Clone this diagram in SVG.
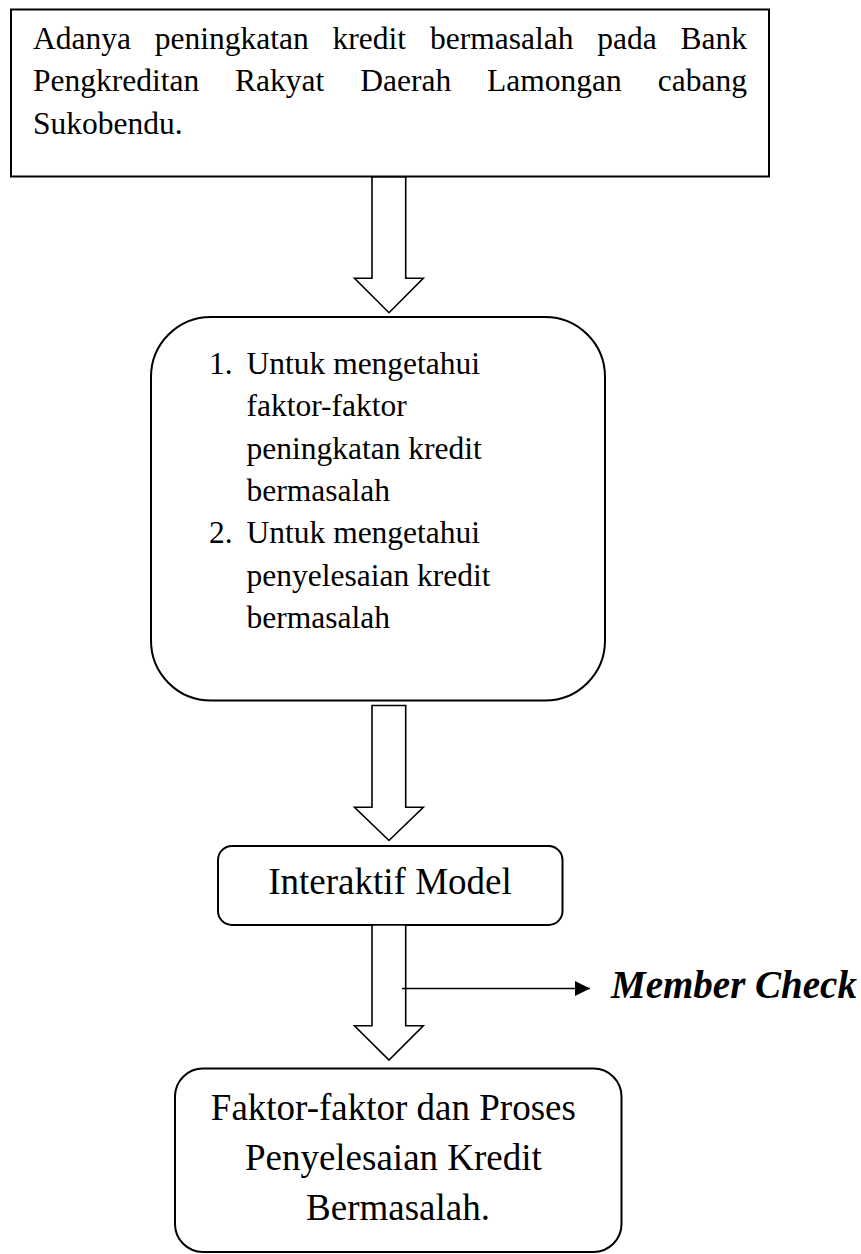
<svg xmlns="http://www.w3.org/2000/svg" width="861" height="1254" viewBox="0 0 861 1254">
  <style>
    .box { fill: #ffffff; stroke: #000000; stroke-width: 2; }
    .barrow { fill: #ffffff; stroke: #000000; stroke-width: 1.6; stroke-linejoin: miter; }
    .t { font-family: "Liberation Serif", "Times New Roman", serif; fill: #000000; }
    .body { font-size: 31.5px; }
    .big { font-size: 37px; }
    .mc { font-size: 39px; font-weight: bold; font-style: italic; }
    .line { stroke: #000000; stroke-width: 1.5; fill: none; }
  </style>
  <defs>
    <marker id="tip" markerWidth="16" markerHeight="16" refX="15" refY="7.5" orient="auto" markerUnits="userSpaceOnUse">
      <path d="M0,0 L15,7.5 L0,15 Z" fill="#000000"/>
    </marker>
  </defs>
  <rect width="861" height="1254" fill="#ffffff"/>

  <!-- problem statement -->
  <g id="node-masalah">
    <rect class="box" x="11" y="9.5" width="758" height="167"/>
    <text class="t body" y="48.5">
      <tspan x="33">Adanya</tspan><tspan x="154.8">peningkatan</tspan><tspan x="332.6">kredit</tspan><tspan x="430">bermasalah</tspan><tspan x="597.3">pada</tspan><tspan x="680.6">Bank</tspan>
    </text>
    <text class="t body" y="91">
      <tspan x="33">Pengkreditan</tspan><tspan x="235.1">Rakyat</tspan><tspan x="360.3">Daerah</tspan><tspan x="487.1">Lamongan</tspan><tspan x="657.8">cabang</tspan>
    </text>
    <text class="t body" x="33" y="133.5">Sukobendu.</text>
  </g>

  <!-- research objectives -->
  <g id="node-tujuan">
    <rect class="box" x="151" y="317" width="454" height="383.5" rx="60" ry="60"/>
    <text class="t body">
      <tspan x="209" y="374">1.</tspan><tspan x="246.5" y="374">Untuk mengetahui</tspan>
      <tspan x="246.5" y="416.3">faktor-faktor</tspan>
      <tspan x="246.5" y="458.6">peningkatan kredit</tspan>
      <tspan x="246.5" y="500.9">bermasalah</tspan>
      <tspan x="209" y="543.2">2.</tspan><tspan x="246.5" y="543.2">Untuk mengetahui</tspan>
      <tspan x="246.5" y="585.5">penyelesaian kredit</tspan>
      <tspan x="246.5" y="627.8">bermasalah</tspan>
    </text>
  </g>

  <!-- analysis method -->
  <g id="node-model">
    <rect class="box" x="218" y="846" width="344.5" height="79" rx="14" ry="14"/>
    <text class="t big" x="390" y="894" text-anchor="middle">Interaktif Model</text>
  </g>

  <!-- outcome -->
  <g id="node-hasil">
    <rect class="box" x="175" y="1068.5" width="446.5" height="183.5" rx="28" ry="28"/>
    <text class="t big" text-anchor="middle">
      <tspan x="398" y="1120">Faktor-faktor dan Proses</tspan>
      <tspan x="398" y="1170">Penyelesaian Kredit</tspan>
      <tspan x="398" y="1220">Bermasalah.</tspan>
    </text>
  </g>

  <!-- connectors -->
  <g id="connectors">
    <path class="barrow" d="M372,177 H405.7 V278.3 H423.3 L389,312.7 L354.5,278.3 H372 Z"/>
    <path class="barrow" d="M372,705.5 H405.7 V807.3 H423.3 L389,840.5 L354.5,807.3 H372 Z"/>
    <path class="barrow" d="M372,925 H405.7 V1025.7 H423.3 L389,1060 L354.5,1025.7 H372 Z"/>
    <line class="line" x1="402" y1="988.5" x2="590" y2="988.5" marker-end="url(#tip)"/>
    <text class="t mc" x="611" y="998">Member Check</text>
  </g>
</svg>
